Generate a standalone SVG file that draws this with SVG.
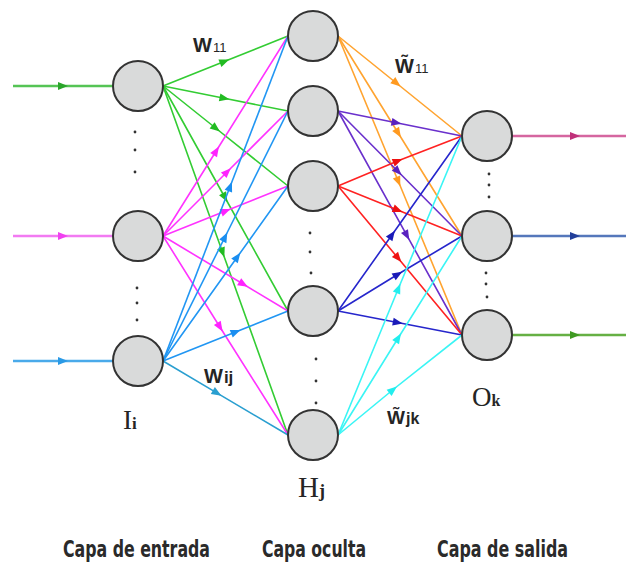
<svg xmlns="http://www.w3.org/2000/svg" width="626" height="564" viewBox="0 0 626 564">
<style>
.node{fill:#d9dada;stroke:#333;stroke-width:2}
.c{fill:none;stroke-width:1.6}
.g{stroke:#33cc33;marker-mid:url(#mg)}
.m{stroke:#ff33ff;marker-mid:url(#mm)}
.b{stroke:#2196f3;marker-mid:url(#mb)}
.t{stroke:#2a9fd0;marker-mid:url(#mt)}
.o{stroke:#ffa430;marker-mid:url(#mo)}
.p{stroke:#6a30cc;marker-mid:url(#mp)}
.r{stroke:#ff2222;marker-mid:url(#mr)}
.d{stroke:#2626cc;marker-mid:url(#md)}
.y{stroke:#3af5f5;marker-mid:url(#my)}
.io{fill:none;stroke-width:2.4}
.dot{fill:#333}
.lbl{font-family:"Liberation Sans",Arial,sans-serif;font-weight:bold;fill:#252525}
.ser{font-family:"Liberation Serif","Times New Roman",serif;fill:#252525}
.cap{font-family:"DejaVu Sans",sans-serif;font-weight:bold;font-stretch:condensed;fill:#2a2a2a;font-size:23px}
</style>
<defs>
<marker id="mg" viewBox="0 0 10 10" refX="6" refY="5" markerUnits="userSpaceOnUse" markerWidth="12" markerHeight="10" orient="auto"><path d="M0,1 L10,5 L0,9 z" fill="#22bb22"/></marker>
<marker id="mm" viewBox="0 0 10 10" refX="6" refY="5" markerUnits="userSpaceOnUse" markerWidth="12" markerHeight="10" orient="auto"><path d="M0,1 L10,5 L0,9 z" fill="#ff22ff"/></marker>
<marker id="mb" viewBox="0 0 10 10" refX="6" refY="5" markerUnits="userSpaceOnUse" markerWidth="12" markerHeight="10" orient="auto"><path d="M0,1 L10,5 L0,9 z" fill="#1a8ef0"/></marker>
<marker id="mt" viewBox="0 0 10 10" refX="6" refY="5" markerUnits="userSpaceOnUse" markerWidth="12" markerHeight="10" orient="auto"><path d="M0,1 L10,5 L0,9 z" fill="#2a9fd0"/></marker>
<marker id="mo" viewBox="0 0 10 10" refX="6" refY="5" markerUnits="userSpaceOnUse" markerWidth="12" markerHeight="10" orient="auto"><path d="M0,1 L10,5 L0,9 z" fill="#ff9a20"/></marker>
<marker id="mp" viewBox="0 0 10 10" refX="6" refY="5" markerUnits="userSpaceOnUse" markerWidth="12" markerHeight="10" orient="auto"><path d="M0,1 L10,5 L0,9 z" fill="#5a22c0"/></marker>
<marker id="mr" viewBox="0 0 10 10" refX="6" refY="5" markerUnits="userSpaceOnUse" markerWidth="12" markerHeight="10" orient="auto"><path d="M0,1 L10,5 L0,9 z" fill="#ee1111"/></marker>
<marker id="md" viewBox="0 0 10 10" refX="6" refY="5" markerUnits="userSpaceOnUse" markerWidth="12" markerHeight="10" orient="auto"><path d="M0,1 L10,5 L0,9 z" fill="#1a1ab8"/></marker>
<marker id="my" viewBox="0 0 10 10" refX="6" refY="5" markerUnits="userSpaceOnUse" markerWidth="12" markerHeight="10" orient="auto"><path d="M0,1 L10,5 L0,9 z" fill="#22eeee"/></marker>
<marker id="mig" viewBox="0 0 10 10" refX="6" refY="5" markerUnits="userSpaceOnUse" markerWidth="12" markerHeight="10" orient="auto"><path d="M0,1 L10,5 L0,9 z" fill="#2aa52a"/></marker>
<marker id="mim" viewBox="0 0 10 10" refX="6" refY="5" markerUnits="userSpaceOnUse" markerWidth="12" markerHeight="10" orient="auto"><path d="M0,1 L10,5 L0,9 z" fill="#f040f0"/></marker>
<marker id="mib" viewBox="0 0 10 10" refX="6" refY="5" markerUnits="userSpaceOnUse" markerWidth="12" markerHeight="10" orient="auto"><path d="M0,1 L10,5 L0,9 z" fill="#2a9ae6"/></marker>
<marker id="mop" viewBox="0 0 10 10" refX="6" refY="5" markerUnits="userSpaceOnUse" markerWidth="12" markerHeight="10" orient="auto"><path d="M0,1 L10,5 L0,9 z" fill="#c0307a"/></marker>
<marker id="mob" viewBox="0 0 10 10" refX="6" refY="5" markerUnits="userSpaceOnUse" markerWidth="12" markerHeight="10" orient="auto"><path d="M0,1 L10,5 L0,9 z" fill="#223f9a"/></marker>
<marker id="mog" viewBox="0 0 10 10" refX="6" refY="5" markerUnits="userSpaceOnUse" markerWidth="12" markerHeight="10" orient="auto"><path d="M0,1 L10,5 L0,9 z" fill="#3f9a22"/></marker>
</defs>

<g id="connectors">
<path class="io" stroke="#55c455" marker-mid="url(#mig)" d="M13,86 L64,86 L113,86"/>
<path class="io" stroke="#f27af2" marker-mid="url(#mim)" d="M13,236 L64,236 L113,236"/>
<path class="io" stroke="#4aaaea" marker-mid="url(#mib)" d="M13,361 L64,361 L113,361"/>
<path class="io" stroke="#d566a0" marker-mid="url(#mop)" d="M512,136 L576,136 L626,136"/>
<path class="io" stroke="#5577bb" marker-mid="url(#mob)" d="M512,236 L576,236 L626,236"/>
<path class="io" stroke="#66b044" marker-mid="url(#mog)" d="M512,335 L576,335 L626,335"/>

<path class="c g" d="M163,86 L225.5,61 L288,36"/>
<path class="c g" d="M163,86 L225.5,98.5 L288,111"/>
<path class="c g" d="M163,86 L216.8,129 L288,186"/>
<path class="c g" d="M163,86 L225.5,198.5 L288,311"/>
<path class="c g" d="M163,86 L223,253.5 L288,435"/>
<path class="c m" d="M163,236 L216.8,150 L288,36"/>
<path class="c m" d="M163,236 L228,171 L288,111"/>
<path class="c m" d="M163,236 L226.8,210.5 L288,186"/>
<path class="c m" d="M163,236 L244.3,284.8 L288,311"/>
<path class="c m" d="M163,236 L220.5,328 L288,435"/>
<path class="c b" d="M163,361 L230.5,185.5 L288,36"/>
<path class="c b" d="M163,361 L225.5,236 L288,111"/>
<path class="c b" d="M163,361 L238,256 L288,186"/>
<path class="c b" d="M163,361 L236.8,331.5 L288,311"/>
<path class="c t" d="M163,361 L218,393.6 L288,435"/>

<path class="c o" d="M338,36 L397.5,84 L462,136"/>
<path class="c o" d="M338,36 L398.8,134 L462,236"/>
<path class="c o" d="M338,36 L398.8,182.5 L462,335"/>
<path class="c p" d="M338,111 L397.5,123 L462,136"/>
<path class="c p" d="M338,111 L398.8,172.3 L462,236"/>
<path class="c p" d="M338,111 L407.4,236.4 L462,335"/>
<path class="c r" d="M338,186 L398.8,160.5 L462,136"/>
<path class="c r" d="M338,186 L398.8,210.5 L462,236"/>
<path class="c r" d="M338,186 L398.8,259 L462,335"/>
<path class="c d" d="M338,311 L392.6,234 L462,136"/>
<path class="c d" d="M338,311 L398.8,273.8 L462,236"/>
<path class="c d" d="M338,311 L398.8,322.8 L462,335"/>
<path class="c y" d="M338,435 L398.8,287.5 L462,136"/>
<path class="c y" d="M338,435 L398.8,337 L462,236"/>
<path class="c y" d="M338,435 L393.8,389 L462,335"/>
</g>

<g id="input-1"><circle class="node" cx="138" cy="86" r="25"/></g>
<g id="input-2"><circle class="node" cx="138" cy="236" r="25"/></g>
<g id="input-3"><circle class="node" cx="138" cy="361" r="25"/></g>
<g id="hidden-1"><circle class="node" cx="313" cy="36" r="25"/></g>
<g id="hidden-2"><circle class="node" cx="313" cy="111" r="25"/></g>
<g id="hidden-3"><circle class="node" cx="313" cy="186" r="25"/></g>
<g id="hidden-4"><circle class="node" cx="313" cy="311" r="25"/></g>
<g id="hidden-5"><circle class="node" cx="313" cy="435" r="25"/></g>
<g id="output-1"><circle class="node" cx="487" cy="136" r="25"/></g>
<g id="output-2"><circle class="node" cx="487" cy="236" r="25"/></g>
<g id="output-3"><circle class="node" cx="487" cy="335" r="25"/></g>

<g id="dots">
<circle class="dot" cx="135" cy="132" r="1.4"/><circle class="dot" cx="135" cy="150" r="1.4"/><circle class="dot" cx="135" cy="172" r="1.4"/>
<circle class="dot" cx="137" cy="288" r="1.4"/><circle class="dot" cx="137" cy="303" r="1.4"/><circle class="dot" cx="137" cy="320" r="1.4"/>
<circle class="dot" cx="310" cy="233" r="1.4"/><circle class="dot" cx="310" cy="252" r="1.4"/><circle class="dot" cx="311" cy="273" r="1.4"/>
<circle class="dot" cx="316" cy="359" r="1.4"/><circle class="dot" cx="316" cy="381" r="1.4"/><circle class="dot" cx="316" cy="403" r="1.4"/>
<circle class="dot" cx="489" cy="174" r="1.4"/><circle class="dot" cx="489" cy="185" r="1.4"/><circle class="dot" cx="489" cy="197" r="1.4"/>
<circle class="dot" cx="486" cy="273" r="1.4"/><circle class="dot" cx="486" cy="284" r="1.4"/><circle class="dot" cx="487" cy="297" r="1.4"/>
</g>

<g id="labels">
<text class="lbl" x="193" y="52" font-size="20">W<tspan font-size="13" font-weight="normal" dx="1">11</tspan></text>
<text class="lbl" x="395" y="73" font-size="20">W&#x303;<tspan font-size="13" font-weight="normal" dx="1">11</tspan></text>
<text class="lbl" x="204" y="383" font-size="20">W<tspan font-size="17" dx="1">ij</tspan></text>
<text class="lbl" x="387" y="424" font-size="19">W&#x303;<tspan font-size="16" dx="1">jk</tspan></text>
<text class="ser" x="123" y="429" font-size="27">I<tspan font-size="17" font-weight="bold">i</tspan></text>
<text class="ser" x="298" y="497" font-size="29">H<tspan font-size="18" font-weight="bold">j</tspan></text>
<text class="ser" x="472" y="406" font-size="27">O<tspan font-size="16" font-weight="bold">k</tspan></text>
<text class="cap" x="63" y="557" textLength="147" lengthAdjust="spacingAndGlyphs">Capa de entrada</text>
<text class="cap" x="262" y="557" textLength="104" lengthAdjust="spacingAndGlyphs">Capa oculta</text>
<text class="cap" x="437" y="557" textLength="131" lengthAdjust="spacingAndGlyphs">Capa de salida</text>
</g>
</svg>
